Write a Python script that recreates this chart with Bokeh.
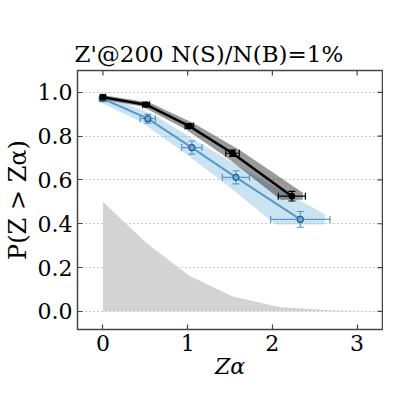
import numpy as np
from bokeh.plotting import figure
from bokeh.models import FixedTicker, Range1d, NumeralTickFormatter
from bokeh.embed import file_html
from bokeh.resources import INLINE

# ---- data ----
black_x = [0.0, 0.51, 1.02, 1.53, 2.23]
black_y = [0.978, 0.944, 0.846, 0.722, 0.526]
black_xerr = [0.03, 0.04, 0.05, 0.08, 0.16]
black_yerr = [0.006, 0.008, 0.01, 0.014, 0.022]
black_band_x = [0.03, 0.04, 0.05, 0.08, 0.13]
black_band_y = [0.008, 0.01, 0.013, 0.016, 0.016]

blue_x = [0.0, 0.53, 1.05, 1.57, 2.33]
blue_y = [0.971, 0.880, 0.748, 0.612, 0.420]
blue_xerr = [0.04, 0.09, 0.12, 0.16, 0.35]
blue_yerr = [0.01, 0.02, 0.03, 0.03, 0.036]
blue_band_x = [0.06, 0.08, 0.10, 0.14, 0.29]
blue_band_y = [0.01, 0.015, 0.02, 0.025, 0.023]

null_x = [0.0, 0.52, 1.02, 1.53, 2.08, 2.68, 3.3]
null_y = [0.5, 0.31, 0.163, 0.068, 0.02, 0.005, 0.0]

x_ticks = [0, 1, 2, 3]
y_ticks = [0.0, 0.2, 0.4, 0.6, 0.8, 1.0]

title = "Z'@200 N(S)/N(B)=1%"
x_label = "Zα"
y_label = "P(Z > Zα)"
FONT = "DejaVu Serif"

BLUE = "#5599cc"
BAND_BLUE = "#6baed6"
FRAME = "#444444"

X0, X1 = -0.3, 3.3
Y0, Y1 = -0.083, 1.1


def band_polygon(x, y, bx, by):
    n = len(x)
    xs = [x[0] - bx[0]] + [x[i] + bx[i] for i in range(n)] + [x[-1] + bx[-1]]
    ys = [y[0] + by[0]] + [y[i] + by[i] for i in range(n)] + [y[-1] - by[-1]]
    xs += [x[i] - bx[i] for i in range(n - 1, -1, -1)]
    ys += [y[i] - by[i] for i in range(n - 1, -1, -1)]
    return xs, ys


p = figure(width=383, height=383, output_backend="svg", toolbar_location=None,
           x_range=Range1d(X0, X1), y_range=Range1d(Y0, Y1),
           min_border_left=75, min_border_right=1, min_border_top=70,
           min_border_bottom=54)

p.title.text = title
p.title.text_font = FONT
p.title.text_font_size = "23px"
p.title.text_font_style = "normal"
p.title.text_color = "black"
p.title.align = "left"
p.title.offset = -3
p.title.standoff = 8

p.xgrid.visible = False
p.ygrid.ticker = FixedTicker(ticks=y_ticks)
p.ygrid.grid_line_color = "#999999"
p.ygrid.grid_line_dash = "1 3"
p.ygrid.grid_line_width = 1

p.outline_line_color = FRAME
p.outline_line_width = 1.5
p.background_fill_color = "white"
p.border_fill_color = "white"

for ax, ticks in ((p.xaxis[0], x_ticks), (p.yaxis[0], y_ticks)):
    ax.ticker = FixedTicker(ticks=ticks)
    ax.major_tick_in = 5
    ax.major_tick_out = 0
    ax.minor_tick_line_color = None
    ax.axis_line_color = None
    ax.major_tick_line_color = FRAME
    ax.major_tick_line_width = 1.2
    ax.major_label_text_font = FONT
    ax.major_label_text_font_size = "22px"
    ax.major_label_text_color = "black"
    ax.axis_label_text_font = FONT
    ax.axis_label_text_font_size = "24px"
    ax.axis_label_text_color = "black"

p.xaxis[0].axis_label = x_label
p.xaxis[0].axis_label_text_font_style = "italic"
p.xaxis[0].axis_label_text_font_size = "22px"
p.xaxis[0].major_label_standoff = 5
p.xaxis[0].axis_label_standoff = 0

p.yaxis[0].formatter = NumeralTickFormatter(format="0.0")
p.yaxis[0].axis_label = y_label
p.yaxis[0].axis_label_text_font_style = "normal"
p.yaxis[0].major_label_standoff = 5
p.yaxis[0].axis_label_standoff = 3

# inward ticks on top and right edges (half of each dash is clipped by the frame)
p.scatter(x_ticks, [Y1] * len(x_ticks), marker="dash", angle=np.pi / 2, size=10,
          line_color=FRAME, line_width=1.2)
p.scatter([X1] * len(y_ticks), y_ticks, marker="dash", size=10,
          line_color=FRAME, line_width=1.2)

# null distribution
p.varea(x=null_x, y1=[0] * len(null_x), y2=null_y, fill_color="#d3d3d3")

# bands
bxs, bys = band_polygon(blue_x, blue_y, blue_band_x, blue_band_y)
p.patch(bxs, bys, fill_color=BAND_BLUE, fill_alpha=0.35, line_color=None)
kxs, kys = band_polygon(black_x, black_y, black_band_x, black_band_y)
p.patch(kxs, kys, fill_color="black", fill_alpha=0.4, line_color=None)

# lines
p.line(blue_x, blue_y, line_color=BLUE, line_width=2)


def errorbars(x, y, xe, ye, color, width):
    x = np.array(x); y = np.array(y); xe = np.array(xe); ye = np.array(ye)
    p.segment(x0=x - xe, y0=y, x1=x + xe, y1=y, line_color=color, line_width=width)
    p.segment(x0=x, y0=y - ye, x1=x, y1=y + ye, line_color=color, line_width=width)
    p.scatter(np.concatenate([x - xe, x + xe]), np.concatenate([y, y]), marker="dash",
              angle=np.pi / 2, size=7, line_color=color, line_width=width)
    p.scatter(np.concatenate([x, x]), np.concatenate([y - ye, y + ye]), marker="dash",
              size=7, line_color=color, line_width=width)


errorbars(blue_x, blue_y, blue_xerr, blue_yerr, BLUE, 1.2)
p.scatter(blue_x, blue_y, size=6, fill_color="#6aacdc", line_color="#2a5a82", line_width=1.2)

p.line(black_x, black_y, line_color="black", line_width=2.5)
errorbars(black_x, black_y, black_xerr, black_yerr, "black", 1.2)
p.scatter(black_x, black_y, size=6, fill_color="black", line_color="black")

open("out.html", "w").write(file_html(p, INLINE))
